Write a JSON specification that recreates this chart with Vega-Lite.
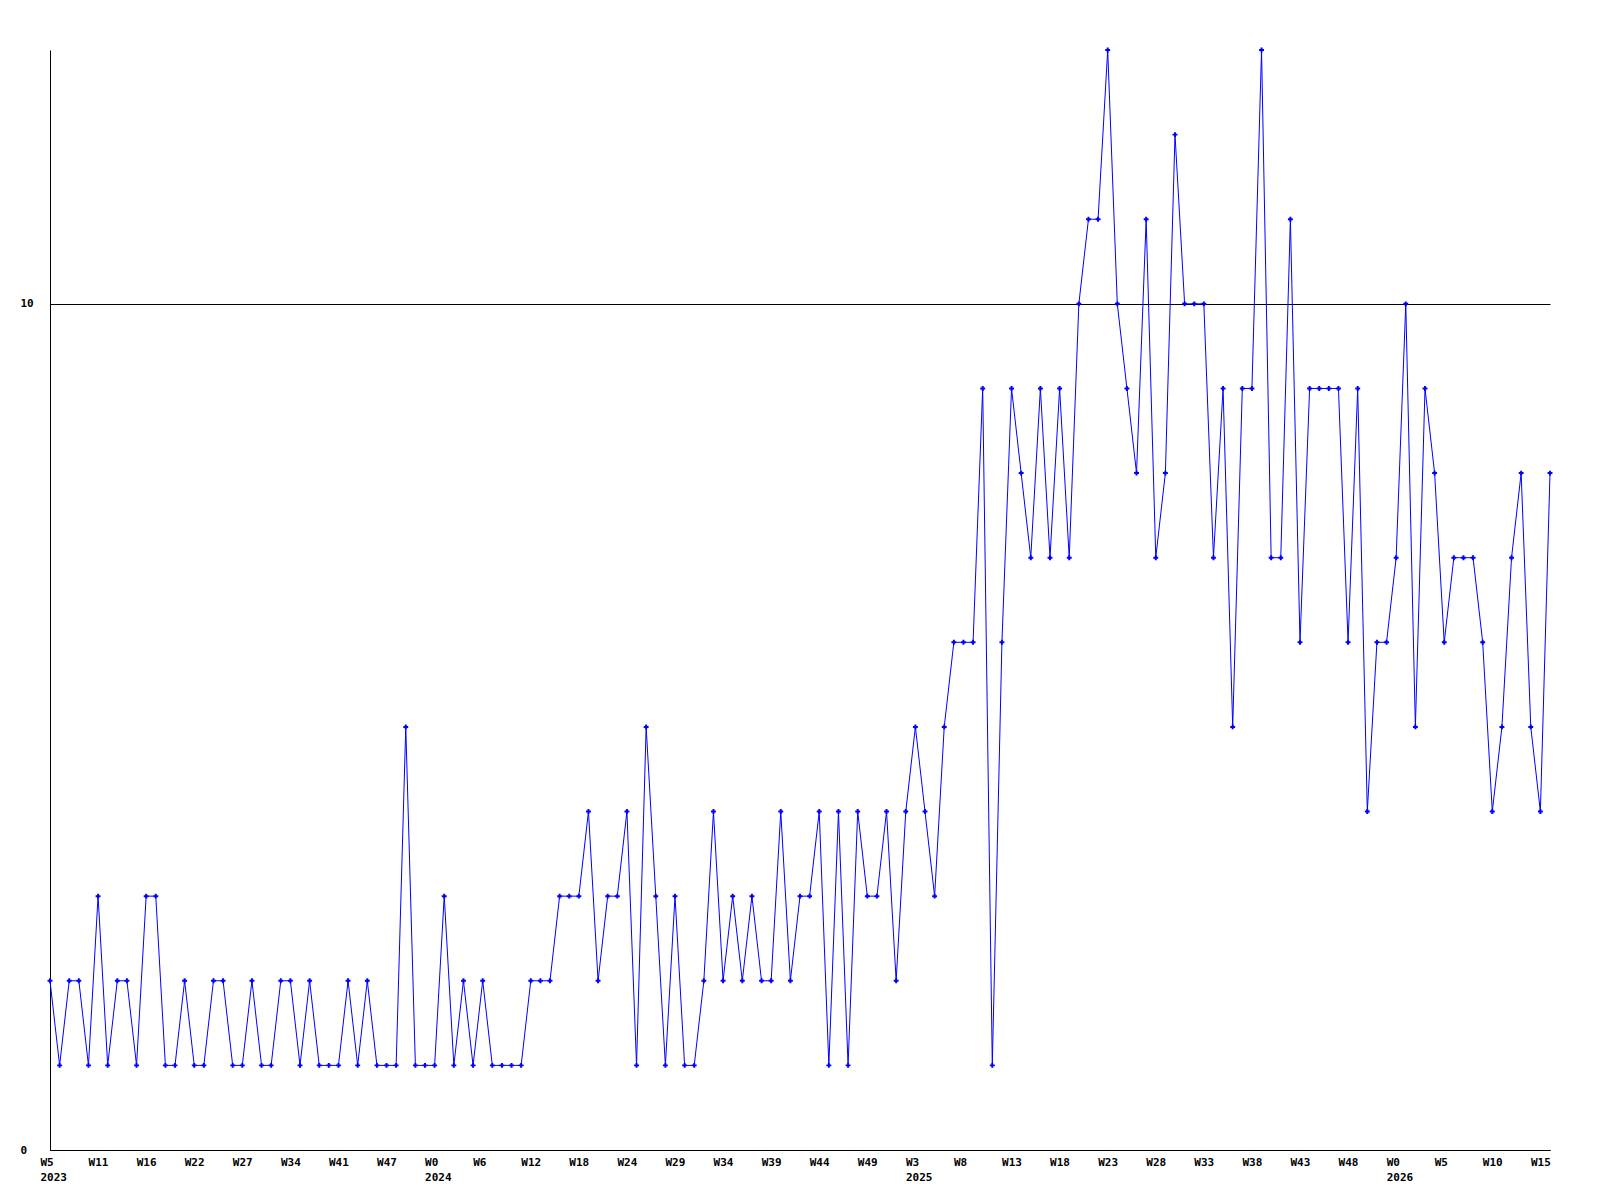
{
  "$schema": "https://vega.github.io/schema/vega-lite/v6.json",
  "autosize": "none",
  "width": 1500,
  "height": 1100,
  "padding": {"left": 50, "top": 50, "right": 50, "bottom": 50},
  "background": "white",
  "config": {
    "view": {"stroke": null},
    "axis": {"labelFont": "DejaVu Sans Mono", "labelFontSize": 11, "labelFontWeight": "bold", "labelColor": "black", "domainColor": "black", "domainWidth": 1}
  },
  "data": {"values": [
    {"w":"W5 2023","v":2},{"w":"W6 2023","v":1},{"w":"W7 2023","v":2},{"w":"W8 2023","v":2},{"w":"W9 2023","v":1},
    {"w":"W11 2023","v":3},{"w":"W12 2023","v":1},{"w":"W13 2023","v":2},{"w":"W14 2023","v":2},{"w":"W15 2023","v":1},
    {"w":"W16 2023","v":3},{"w":"W17 2023","v":3},{"w":"W18 2023","v":1},{"w":"W19 2023","v":1},{"w":"W20 2023","v":2},
    {"w":"W22 2023","v":1},{"w":"W23 2023","v":1},{"w":"W24 2023","v":2},{"w":"W25 2023","v":2},{"w":"W26 2023","v":1},
    {"w":"W27 2023","v":1},{"w":"W28 2023","v":2},{"w":"W29 2023","v":1},{"w":"W30 2023","v":1},{"w":"W31 2023","v":2},
    {"w":"W34 2023","v":2},{"w":"W35 2023","v":1},{"w":"W36 2023","v":2},{"w":"W37 2023","v":1},{"w":"W38 2023","v":1},
    {"w":"W41 2023","v":1},{"w":"W42 2023","v":2},{"w":"W43 2023","v":1},{"w":"W44 2023","v":2},{"w":"W45 2023","v":1},
    {"w":"W47 2023","v":1},{"w":"W48 2023","v":1},{"w":"W49 2023","v":5},{"w":"W50 2023","v":1},{"w":"W51 2023","v":1},
    {"w":"W0 2024","v":1},{"w":"W1 2024","v":3},{"w":"W2 2024","v":1},{"w":"W3 2024","v":2},{"w":"W4 2024","v":1},
    {"w":"W6 2024","v":2},{"w":"W7 2024","v":1},{"w":"W8 2024","v":1},{"w":"W9 2024","v":1},{"w":"W10 2024","v":1},
    {"w":"W12 2024","v":2},{"w":"W13 2024","v":2},{"w":"W14 2024","v":2},{"w":"W15 2024","v":3},{"w":"W16 2024","v":3},
    {"w":"W18 2024","v":3},{"w":"W19 2024","v":4},{"w":"W20 2024","v":2},{"w":"W21 2024","v":3},{"w":"W22 2024","v":3},
    {"w":"W24 2024","v":4},{"w":"W25 2024","v":1},{"w":"W26 2024","v":5},{"w":"W27 2024","v":3},{"w":"W28 2024","v":1},
    {"w":"W29 2024","v":3},{"w":"W30 2024","v":1},{"w":"W31 2024","v":1},{"w":"W32 2024","v":2},{"w":"W33 2024","v":4},
    {"w":"W34 2024","v":2},{"w":"W35 2024","v":3},{"w":"W36 2024","v":2},{"w":"W37 2024","v":3},{"w":"W38 2024","v":2},
    {"w":"W39 2024","v":2},{"w":"W40 2024","v":4},{"w":"W41 2024","v":2},{"w":"W42 2024","v":3},{"w":"W43 2024","v":3},
    {"w":"W44 2024","v":4},{"w":"W45 2024","v":1},{"w":"W46 2024","v":4},{"w":"W47 2024","v":1},{"w":"W48 2024","v":4},
    {"w":"W49 2024","v":3},{"w":"W50 2024","v":3},{"w":"W51 2024","v":4},{"w":"W52 2024","v":2},{"w":"W1 2025","v":4},
    {"w":"W3 2025","v":5},{"w":"W4 2025","v":4},{"w":"W5 2025","v":3},{"w":"W6 2025","v":5},{"w":"W7 2025","v":6},
    {"w":"W8 2025","v":6},{"w":"W9 2025","v":6},{"w":"W10 2025","v":9},{"w":"W11 2025","v":1},{"w":"W12 2025","v":6},
    {"w":"W13 2025","v":9},{"w":"W14 2025","v":8},{"w":"W15 2025","v":7},{"w":"W16 2025","v":9},{"w":"W17 2025","v":7},
    {"w":"W18 2025","v":9},{"w":"W19 2025","v":7},{"w":"W20 2025","v":10},{"w":"W21 2025","v":11},{"w":"W22 2025","v":11},
    {"w":"W23 2025","v":13},{"w":"W24 2025","v":10},{"w":"W25 2025","v":9},{"w":"W26 2025","v":8},{"w":"W27 2025","v":11},
    {"w":"W28 2025","v":7},{"w":"W29 2025","v":8},{"w":"W30 2025","v":12},{"w":"W31 2025","v":10},{"w":"W32 2025","v":10},
    {"w":"W33 2025","v":10},{"w":"W34 2025","v":7},{"w":"W35 2025","v":9},{"w":"W36 2025","v":5},{"w":"W37 2025","v":9},
    {"w":"W38 2025","v":9},{"w":"W39 2025","v":13},{"w":"W40 2025","v":7},{"w":"W41 2025","v":7},{"w":"W42 2025","v":11},
    {"w":"W43 2025","v":6},{"w":"W44 2025","v":9},{"w":"W45 2025","v":9},{"w":"W46 2025","v":9},{"w":"W47 2025","v":9},
    {"w":"W48 2025","v":6},{"w":"W49 2025","v":9},{"w":"W50 2025","v":4},{"w":"W51 2025","v":6},{"w":"W52 2025","v":6},
    {"w":"W0 2026","v":7},{"w":"W1 2026","v":10},{"w":"W2 2026","v":5},{"w":"W3 2026","v":9},{"w":"W4 2026","v":8},
    {"w":"W5 2026","v":6},{"w":"W6 2026","v":7},{"w":"W7 2026","v":7},{"w":"W8 2026","v":7},{"w":"W9 2026","v":6},
    {"w":"W10 2026","v":4},{"w":"W11 2026","v":5},{"w":"W12 2026","v":7},{"w":"W13 2026","v":8},{"w":"W14 2026","v":5},
    {"w":"W15 2026","v":4},{"w":"W16 2026","v":8}
  ]},
  "encoding": {
    "x": {
      "field": "w", "type": "ordinal", "sort": null,
      "scale": {"type": "point", "padding": 0},
      "axis": {
        "title": null, "ticks": false, "grid": false, "labelAngle": 0,
        "labelAlign": "left", "labelBaseline": "top", "labelOffset": -10, "labelPadding": 6,
        "labelLineHeight": 15, "labelOverlap": false,
        "values": ["W5 2023","W11 2023","W16 2023","W22 2023","W27 2023","W34 2023","W41 2023","W47 2023","W0 2024","W6 2024","W12 2024","W18 2024","W24 2024","W29 2024","W34 2024","W39 2024","W44 2024","W49 2024","W3 2025","W8 2025","W13 2025","W18 2025","W23 2025","W28 2025","W33 2025","W38 2025","W43 2025","W48 2025","W0 2026","W5 2026","W10 2026","W15 2026"],
        "labelExpr": "indexof(['W5 2023','W0 2024','W3 2025','W0 2026'], datum.value) >= 0 ? split(datum.value, ' ') : split(datum.value, ' ')[0]"
      }
    },
    "y": {
      "field": "v", "type": "quantitative",
      "scale": {"domain": [0, 13], "nice": false, "zero": true},
      "axis": {
        "title": null, "values": [0, 10], "ticks": false, "tickSize": 0,
        "grid": true, "gridColor": "black", "gridOpacity": 1, "gridWidth": 1,
        "labelAlign": "left", "labelBaseline": "middle", "labelPadding": 30
      }
    }
  },
  "layer": [
    {"mark": {"type": "line", "color": "#0000ff", "strokeWidth": 1, "interpolate": "linear"}},
    {"mark": {"type": "point", "shape": "cross", "filled": true, "color": "#0000ff", "size": 24, "opacity": 1}}
  ]
}
